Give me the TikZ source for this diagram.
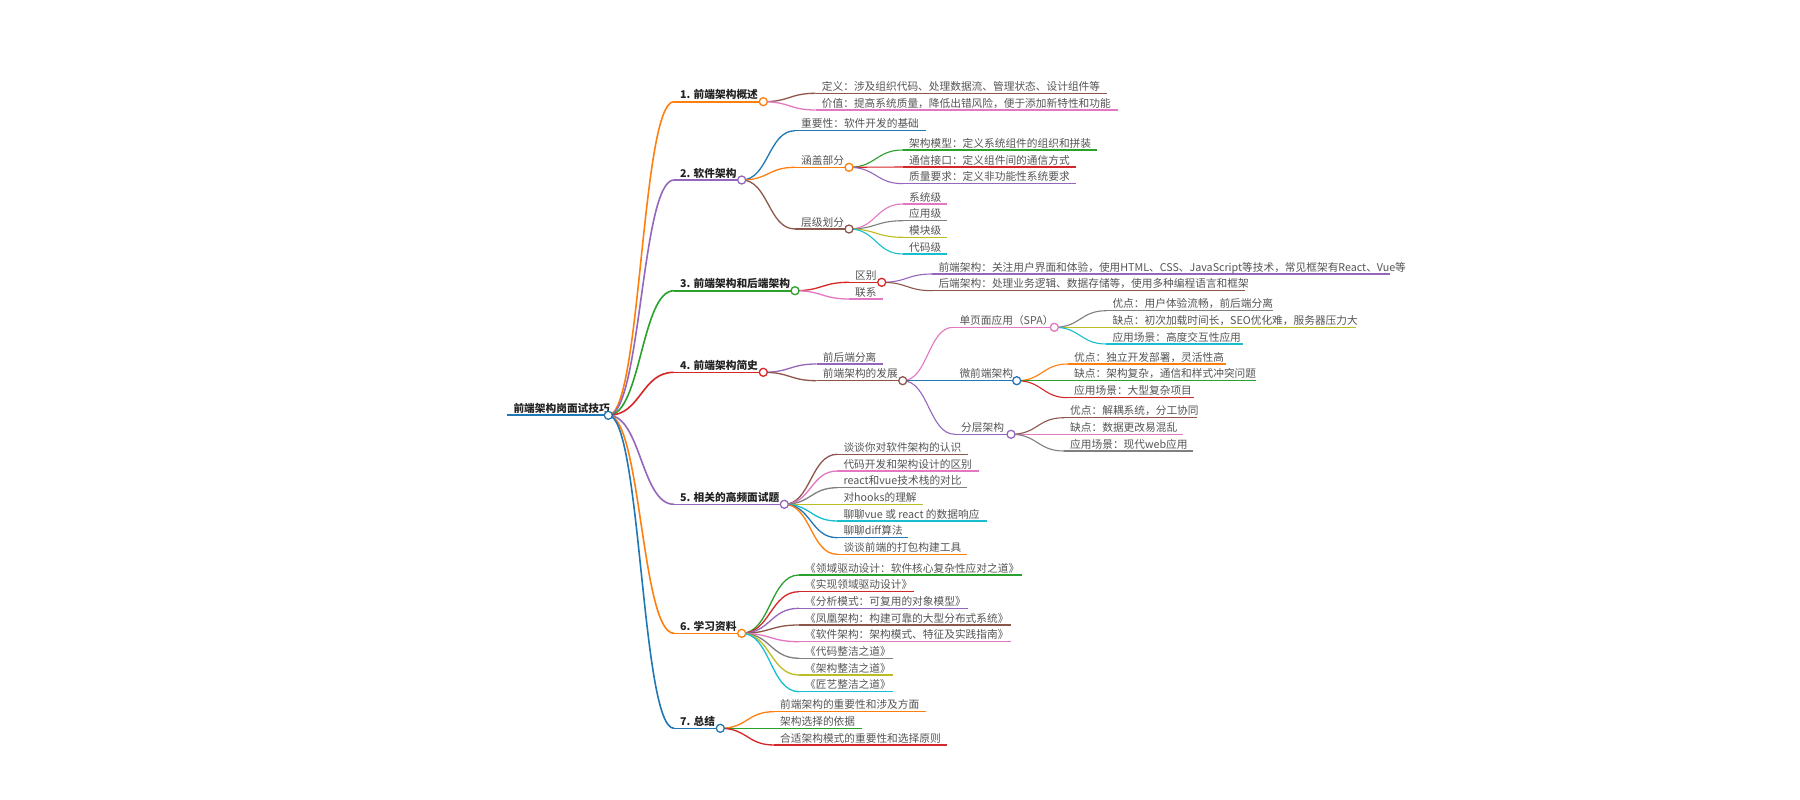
\documentclass[tikz,border=0pt]{standalone}
\usepackage{fontspec}
\setmainfont{Noto Sans CJK SC}
\usetikzlibrary{calc}
\definecolor{cBlue}{HTML}{1F77B4}
\definecolor{cOrange}{HTML}{FF7F0E}
\definecolor{cGreen}{HTML}{2CA02C}
\definecolor{cRed}{HTML}{D62728}
\definecolor{cPurple}{HTML}{9467BD}
\definecolor{cBrown}{HTML}{8C564B}
\definecolor{cPink}{HTML}{E377C2}
\definecolor{cGray}{HTML}{7F7F7F}
\definecolor{cOlive}{HTML}{BCBD22}
\definecolor{cCyan}{HTML}{17BECF}
\definecolor{txtDark}{HTML}{222222}
\definecolor{txtLeaf}{HTML}{555555}
\tikzset{
  ln0/.style={line width=2pt},
  ln1/.style={line width=1.6pt},
  ln2/.style={line width=1.3pt},
  ln3/.style={line width=1.1pt},
  tx0/.style={inner sep=0pt, text=txtDark, font=\fontsize{10.7pt}{12pt}\selectfont\bfseries},
  tx1/.style={inner sep=0pt, text=txtDark, font=\fontsize{10.7pt}{12pt}\selectfont\bfseries},
  tx2/.style={inner sep=0pt, text=txtLeaf, font=\fontsize{10.7pt}{12pt}\selectfont},
  tx3/.style={inner sep=0pt, text=txtLeaf, font=\fontsize{10.7pt}{12pt}\selectfont},
  mmlink/.style={to path={let \p1=(\tikztostart), \p2=(\tikztotarget) in
      .. controls ({0.5*\x1+0.5*\x2},\y1) and ({0.5*\x1+0.5*\x2},\y2) .. (\tikztotarget)}},
  mmdot/.style={circle, fill=white, line width=1.3pt, minimum size=8pt, inner sep=0pt},
}
% #1 name, #2 colour, #3 level, #4 text x, #5 line y, #6 line end x, #7 text
\newcommand\mmitem[7]{%
  \coordinate (#1-s) at ({#4-6},#5);
  \coordinate (#1-e) at (#6,#5);
  \draw[draw=#2, ln#3] (#1-s) -- (#1-e);
  \node[tx#3, anchor=base west] (#1) at (#4,{#5-3}) {#7};
}
% #1 parent, #2 child, #3 colour, #4 level
\newcommand\mmedge[4]{\draw[mmlink, ln#4, draw=#3] (#1-e) to (#2-s);}
\newcommand\mmcirc[2]{\node[mmdot, draw=#2] (#1-c) at (#1-e) {};}

\begin{document}
\begin{tikzpicture}[x=1pt, y=-1pt]
\fill[white] (0,0) rectangle (1800,800);
\useasboundingbox (0,0) rectangle (1800,800);

% ---------- items ----------
\mmitem{root}{cBlue}{0}{513.3}{415.3}{608.3}{前端架构岗面试技巧}

\mmitem{n1}{cOrange}{1}{680}{101.7}{763.3}{1. 前端架构概述}
\mmitem{n2}{cPurple}{1}{680}{180}{741.7}{2. 软件架构}
\mmitem{n3}{cGreen}{1}{680}{290.7}{795}{3. 前端架构和后端架构}
\mmitem{n4}{cRed}{1}{680}{372.3}{763.3}{4. 前端架构简史}
\mmitem{n5}{cPurple}{1}{680}{504.3}{784.3}{5. 相关的高频面试题}
\mmitem{n6}{cOrange}{1}{680}{633.3}{741.7}{6. 学习资料}
\mmitem{n7}{cBlue}{1}{680}{728.3}{720.3}{7. 总结}

% node 1
\mmitem{n1a}{cBrown}{2}{821.7}{93.3}{1107}{定义：涉及组织代码、处理数据流、管理状态、设计组件等}
\mmitem{n1b}{cPink}{2}{821.7}{110}{1117.7}{价值：提高系统质量，降低出错风险，便于添加新特性和功能}

% node 2
\mmitem{n2a}{cBlue}{2}{801}{130.7}{926}{重要性：软件开发的基础}
\mmitem{n2b}{cOrange}{2}{801}{167.3}{849}{涵盖部分}
\mmitem{n2c}{cBrown}{2}{801}{229}{849}{层级划分}
\mmitem{n2b1}{cGreen}{3}{909}{150}{1096.7}{架构模型：定义系统组件的组织和拼装}
\mmitem{n2b2}{cRed}{3}{909}{167}{1076}{通信接口：定义组件间的通信方式}
\mmitem{n2b3}{cPurple}{3}{909}{183.7}{1076}{质量要求：定义非功能性系统要求}
\mmitem{n2c1}{cPink}{3}{909}{204}{947}{系统级}
\mmitem{n2c2}{cGray}{3}{909}{220.7}{947}{应用级}
\mmitem{n2c3}{cOlive}{3}{909}{237.3}{947}{模块级}
\mmitem{n2c4}{cCyan}{3}{909}{254}{947}{代码级}

% node 3
\mmitem{n3a}{cRed}{2}{855}{282.3}{881.7}{区别}
\mmitem{n3b}{cPink}{2}{855}{299}{882.7}{联系}
\mmitem{n3a1}{cPurple}{3}{938.3}{274}{1390}{前端架构：关注用户界面和体验，使用HTML、CSS、JavaScript等技术，常见框架有React、Vue等}
\mmitem{n3a2}{cBrown}{3}{938.3}{290.7}{1245}{后端架构：处理业务逻辑、数据存储等，使用多种编程语言和框架}

% node 4
\mmitem{n4a}{cPurple}{2}{822.7}{364}{882.7}{前后端分离}
\mmitem{n4b}{cBrown}{2}{822.7}{380.7}{902.7}{前端架构的发展}
\mmitem{n4b1}{cPink}{3}{959.3}{327.3}{1054.3}{单页面应用（SPA）}
\mmitem{n4b2}{cBlue}{3}{959.3}{380.7}{1016.7}{微前端架构}
\mmitem{n4b3}{cPurple}{3}{961}{434.3}{1011}{分层架构}
\mmitem{n4b1a}{cGray}{3}{1112.3}{310.7}{1273.3}{优点：用户体验流畅，前后端分离}
\mmitem{n4b1b}{cOlive}{3}{1112.3}{327.3}{1356}{缺点：初次加载时间长，SEO优化难，服务器压力大}
\mmitem{n4b1c}{cCyan}{3}{1112.3}{344}{1242.7}{应用场景：高度交互性应用}
\mmitem{n4b2a}{cOrange}{3}{1074}{364}{1225.7}{优点：独立开发部署，灵活性高}
\mmitem{n4b2b}{cGreen}{3}{1074}{380.7}{1256}{缺点：架构复杂，通信和样式冲突问题}
\mmitem{n4b2c}{cRed}{3}{1074}{397.7}{1194}{应用场景：大型复杂项目}
\mmitem{n4b3a}{cBrown}{3}{1070}{417.7}{1196.7}{优点：解耦系统，分工协同}
\mmitem{n4b3b}{cPink}{3}{1070}{434.3}{1183.3}{缺点：数据更改易混乱}
\mmitem{n4b3c}{cGray}{3}{1070}{451}{1193.3}{应用场景：现代web应用}

% node 5
\mmitem{n5a}{cBrown}{2}{843.3}{454.3}{968.3}{谈谈你对软件架构的认识}
\mmitem{n5b}{cPink}{2}{843.3}{471}{979}{代码开发和架构设计的区别}
\mmitem{n5c}{cGray}{2}{843.3}{487.7}{966.7}{react和vue技术栈的对比}
\mmitem{n5d}{cOlive}{2}{843.3}{504.3}{922.7}{对hooks的理解}
\mmitem{n5e}{cCyan}{2}{843.3}{521}{986.7}{聊聊vue 或 react 的数据响应}
\mmitem{n5f}{cBlue}{2}{843.3}{537.7}{908.3}{聊聊diff算法}
\mmitem{n5g}{cOrange}{2}{843.3}{554.3}{967.3}{谈谈前端的打包构建工具}

% node 6
\mmitem{n6a}{cGreen}{2}{805}{575}{1021.7}{《领域驱动设计：软件核心复杂性应对之道》}
\mmitem{n6b}{cRed}{2}{805}{591.7}{914}{《实现领域驱动设计》}
\mmitem{n6c}{cPurple}{2}{805}{608.3}{968.3}{《分析模式：可复用的对象模型》}
\mmitem{n6d}{cBrown}{2}{805}{625}{1010.7}{《凤凰架构：构建可靠的大型分布式系统》}
\mmitem{n6e}{cPink}{2}{805}{641.7}{1010.7}{《软件架构：架构模式、特征及实践指南》}
\mmitem{n6f}{cGray}{2}{805}{658.3}{893.3}{《代码整洁之道》}
\mmitem{n6g}{cOlive}{2}{805}{675}{893.3}{《架构整洁之道》}
\mmitem{n6h}{cCyan}{2}{805}{691.7}{893.3}{《匠艺整洁之道》}

% node 7
\mmitem{n7a}{cOrange}{2}{780}{711.7}{925.7}{前端架构的重要性和涉及方面}
\mmitem{n7b}{cGreen}{2}{780}{728.3}{861.7}{架构选择的依据}
\mmitem{n7c}{cRed}{2}{780}{745}{946.7}{合适架构模式的重要性和选择原则}

% ---------- connectors ----------
\mmedge{root}{n1}{cOrange}{1}
\mmedge{root}{n2}{cPurple}{1}
\mmedge{root}{n3}{cGreen}{1}
\mmedge{root}{n4}{cRed}{1}
\mmedge{root}{n5}{cPurple}{1}
\mmedge{root}{n6}{cOrange}{1}
\mmedge{root}{n7}{cBlue}{1}

\mmedge{n1}{n1a}{cBrown}{2}
\mmedge{n1}{n1b}{cPink}{2}

\mmedge{n2}{n2a}{cBlue}{2}
\mmedge{n2}{n2b}{cOrange}{2}
\mmedge{n2}{n2c}{cBrown}{2}
\mmedge{n2b}{n2b1}{cGreen}{3}
\mmedge{n2b}{n2b2}{cRed}{3}
\mmedge{n2b}{n2b3}{cPurple}{3}
\mmedge{n2c}{n2c1}{cPink}{3}
\mmedge{n2c}{n2c2}{cGray}{3}
\mmedge{n2c}{n2c3}{cOlive}{3}
\mmedge{n2c}{n2c4}{cCyan}{3}

\mmedge{n3}{n3a}{cRed}{2}
\mmedge{n3}{n3b}{cPink}{2}
\mmedge{n3a}{n3a1}{cPurple}{3}
\mmedge{n3a}{n3a2}{cBrown}{3}

\mmedge{n4}{n4a}{cPurple}{2}
\mmedge{n4}{n4b}{cBrown}{2}
\mmedge{n4b}{n4b1}{cPink}{3}
\mmedge{n4b}{n4b2}{cBlue}{3}
\mmedge{n4b}{n4b3}{cPurple}{3}
\mmedge{n4b1}{n4b1a}{cGray}{3}
\mmedge{n4b1}{n4b1b}{cOlive}{3}
\mmedge{n4b1}{n4b1c}{cCyan}{3}
\mmedge{n4b2}{n4b2a}{cOrange}{3}
\mmedge{n4b2}{n4b2b}{cGreen}{3}
\mmedge{n4b2}{n4b2c}{cRed}{3}
\mmedge{n4b3}{n4b3a}{cBrown}{3}
\mmedge{n4b3}{n4b3b}{cPink}{3}
\mmedge{n4b3}{n4b3c}{cGray}{3}

\mmedge{n5}{n5a}{cBrown}{2}
\mmedge{n5}{n5b}{cPink}{2}
\mmedge{n5}{n5c}{cGray}{2}
\mmedge{n5}{n5d}{cOlive}{2}
\mmedge{n5}{n5e}{cCyan}{2}
\mmedge{n5}{n5f}{cBlue}{2}
\mmedge{n5}{n5g}{cOrange}{2}

\mmedge{n6}{n6a}{cGreen}{2}
\mmedge{n6}{n6b}{cRed}{2}
\mmedge{n6}{n6c}{cPurple}{2}
\mmedge{n6}{n6d}{cBrown}{2}
\mmedge{n6}{n6e}{cPink}{2}
\mmedge{n6}{n6f}{cGray}{2}
\mmedge{n6}{n6g}{cOlive}{2}
\mmedge{n6}{n6h}{cCyan}{2}

\mmedge{n7}{n7a}{cOrange}{2}
\mmedge{n7}{n7b}{cGreen}{2}
\mmedge{n7}{n7c}{cRed}{2}

% ---------- circles ----------
\mmcirc{root}{cBlue}
\mmcirc{n1}{cOrange}
\mmcirc{n2}{cPurple}
\mmcirc{n3}{cGreen}
\mmcirc{n4}{cRed}
\mmcirc{n5}{cPurple}
\mmcirc{n6}{cOrange}
\mmcirc{n7}{cBlue}
\mmcirc{n2b}{cOrange}
\mmcirc{n2c}{cBrown}
\mmcirc{n3a}{cRed}
\mmcirc{n4b}{cBrown}
\mmcirc{n4b1}{cPink}
\mmcirc{n4b2}{cBlue}
\mmcirc{n4b3}{cPurple}
\end{tikzpicture}
\end{document}
